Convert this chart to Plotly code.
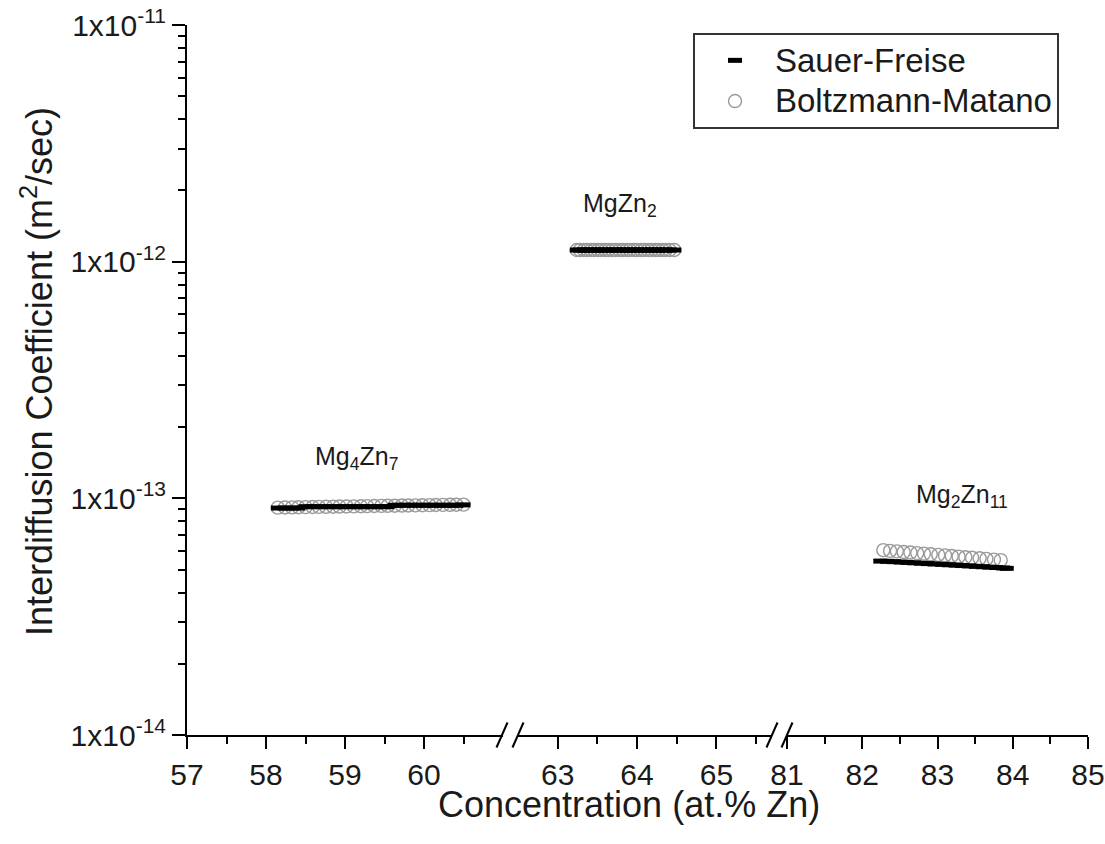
import plotly.graph_objects as go

# --- Measured interdiffusion coefficients (m^2/s) vs. composition (at.% Zn) ---

# Mg4Zn7 phase
mg4zn7_x = [58.15, 58.24, 58.33, 58.41, 58.50, 58.59, 58.67, 58.76, 58.85, 58.93,
            59.02, 59.11, 59.20, 59.28, 59.37, 59.46, 59.54, 59.63, 59.72, 59.80,
            59.89, 59.98, 60.07, 60.15, 60.24, 60.33, 60.41, 60.50]
mg4zn7_sf = [9.10e-14, 9.10e-14, 9.10e-14, 9.10e-14, 9.22e-14, 9.22e-14, 9.22e-14,
             9.22e-14, 9.22e-14, 9.22e-14, 9.22e-14, 9.22e-14, 9.22e-14, 9.22e-14,
             9.22e-14, 9.22e-14, 9.22e-14, 9.35e-14, 9.35e-14, 9.35e-14, 9.35e-14,
             9.35e-14, 9.35e-14, 9.35e-14, 9.35e-14, 9.35e-14, 9.35e-14, 9.38e-14]
mg4zn7_bm = [9.14e-14, 9.15e-14, 9.16e-14, 9.17e-14, 9.18e-14, 9.19e-14, 9.20e-14,
             9.21e-14, 9.22e-14, 9.23e-14, 9.24e-14, 9.25e-14, 9.26e-14, 9.27e-14,
             9.28e-14, 9.29e-14, 9.30e-14, 9.31e-14, 9.32e-14, 9.33e-14, 9.34e-14,
             9.35e-14, 9.36e-14, 9.37e-14, 9.38e-14, 9.39e-14, 9.40e-14, 9.41e-14]

# MgZn2 phase
mgzn2_x = [63.24, 63.28, 63.33, 63.37, 63.42, 63.46, 63.51, 63.55, 63.60, 63.64,
           63.69, 63.73, 63.78, 63.82, 63.87, 63.91, 63.96, 64.00, 64.05, 64.09,
           64.14, 64.18, 64.23, 64.27, 64.32, 64.36, 64.41, 64.47]
mgzn2_sf = [1.12e-12, 1.12e-12, 1.12e-12, 1.12e-12, 1.12e-12, 1.12e-12, 1.12e-12,
            1.12e-12, 1.12e-12, 1.12e-12, 1.12e-12, 1.12e-12, 1.12e-12, 1.12e-12,
            1.12e-12, 1.12e-12, 1.12e-12, 1.12e-12, 1.12e-12, 1.12e-12, 1.12e-12,
            1.12e-12, 1.12e-12, 1.12e-12, 1.12e-12, 1.12e-12, 1.12e-12, 1.12e-12]
mgzn2_bm = [1.12e-12, 1.12e-12, 1.12e-12, 1.12e-12, 1.12e-12, 1.12e-12, 1.12e-12,
            1.12e-12, 1.12e-12, 1.12e-12, 1.12e-12, 1.12e-12, 1.12e-12, 1.12e-12,
            1.12e-12, 1.12e-12, 1.12e-12, 1.12e-12, 1.12e-12, 1.12e-12, 1.12e-12,
            1.12e-12, 1.12e-12, 1.12e-12, 1.12e-12, 1.12e-12, 1.12e-12, 1.12e-12]

# Mg2Zn11 phase
mg2zn11_x_sf = [82.24, 82.33, 82.42, 82.51, 82.60, 82.69, 82.78, 82.87, 82.96, 83.06,
                83.15, 83.24, 83.33, 83.42, 83.51, 83.60, 83.69, 83.78, 83.87, 83.92]
mg2zn11_sf = [5.43e-14, 5.42e-14, 5.40e-14, 5.38e-14, 5.36e-14, 5.34e-14, 5.32e-14,
              5.30e-14, 5.28e-14, 5.26e-14, 5.24e-14, 5.22e-14, 5.20e-14, 5.18e-14,
              5.16e-14, 5.14e-14, 5.12e-14, 5.10e-14, 5.08e-14, 5.06e-14]
mg2zn11_x_bm = [82.28, 82.37, 82.46, 82.55, 82.64, 82.73, 82.82, 82.91, 83.01,
                83.10, 83.19, 83.28, 83.37, 83.46, 83.56, 83.65, 83.75, 83.84]
mg2zn11_bm = [6.04e-14, 6.00e-14, 5.97e-14, 5.93e-14, 5.90e-14, 5.87e-14, 5.84e-14,
              5.80e-14, 5.77e-14, 5.74e-14, 5.71e-14, 5.67e-14, 5.64e-14, 5.61e-14,
              5.58e-14, 5.55e-14, 5.51e-14, 5.48e-14]

# Axis ticks
y_tickvals = [1e-14, 1e-13, 1e-12, 1e-11]
y_ticktext = ["1x10<sup>-14</sup>", "1x10<sup>-13</sup>", "1x10<sup>-12</sup>", "1x10<sup>-11</sup>"]
y_minor = [k * 10.0 ** e for e in (-14, -13, -12) for k in range(2, 10)]
seg1_ticks, seg1_minor = [57, 58, 59, 60], [57.5, 58.5, 59.5, 60.5]
seg2_ticks, seg2_minor = [63, 64, 65], [63.5, 64.5, 65.5]
seg3_ticks, seg3_minor = [81, 82, 83, 84, 85], [81.5, 82.5, 83.5, 84.5]

FONT = "Arial, Liberation Sans, sans-serif"
TXT = "#1a1a1a"

SF_MARKER = dict(symbol="line-ew", size=10, line=dict(width=5, color="black"), color="black")
BM_MARKER = dict(symbol="circle-open", size=13, color="#9a9a9a", line=dict(width=1.4, color="#9a9a9a"))


def legend_label(name):
    # larger glyphs than the legend row font, keeping the rows compact
    return f'<span style="font-size:33px">{name}</span>'


fig = go.Figure()

segments = [
    ("x", mg4zn7_x, mg4zn7_sf, mg4zn7_x, mg4zn7_bm),
    ("x2", mgzn2_x, mgzn2_sf, mgzn2_x, mgzn2_bm),
    ("x3", mg2zn11_x_sf, mg2zn11_sf, mg2zn11_x_bm, mg2zn11_bm),
]
for i, (xa, xs, ys, xb, yb) in enumerate(segments):
    fig.add_trace(go.Scatter(x=xb, y=yb, xaxis=xa, yaxis="y", mode="markers",
                             marker=BM_MARKER, name=legend_label("Boltzmann-Matano"),
                             legendgroup="bm", legendrank=2, showlegend=(i == 0)))
    fig.add_trace(go.Scatter(x=xs, y=ys, xaxis=xa, yaxis="y", mode="markers",
                             marker=SF_MARKER, name=legend_label("Sauer-Freise"),
                             legendgroup="sf", legendrank=1, showlegend=(i == 0)))

# plot area: 901 px wide, 710 px tall
W_PLOT, H_PLOT = 901, 710
L, T = 187, 25


def px(a):
    return (a - L) / W_PLOT


SEG1, SEG2, SEG3 = [px(187), px(503)], [px(518), px(772)], [px(787), px(1088)]

xcommon = dict(
    showline=True, linewidth=2, linecolor="black", ticks="outside", ticklen=12,
    tickwidth=2, tickcolor="black", showgrid=False, zeroline=False,
    tickfont=dict(family=FONT, size=30, color=TXT), tickmode="array", anchor="y",
)
minor_x = dict(tickmode="array", ticks="outside", ticklen=7, tickwidth=2, tickcolor="black")
fig.update_layout(
    xaxis=dict(domain=SEG1, range=[57, 61], tickvals=seg1_ticks,
               minor=dict(tickvals=seg1_minor, **minor_x), **xcommon),
    xaxis2=dict(domain=SEG2, range=[62.5, 65.7], tickvals=seg2_ticks,
                minor=dict(tickvals=seg2_minor, **minor_x), **xcommon),
    xaxis3=dict(domain=SEG3, range=[81, 85], tickvals=seg3_ticks,
                minor=dict(tickvals=seg3_minor, **minor_x), **xcommon),
    yaxis=dict(
        type="log", range=[-14, -11], domain=[0, 1], anchor="x",
        showline=True, linewidth=2, linecolor="black", showgrid=False, zeroline=False,
        ticks="outside", ticklen=13, tickwidth=2, tickcolor="black",
        tickmode="array", tickvals=y_tickvals, ticktext=y_ticktext,
        tickfont=dict(family=FONT, size=30, color=TXT),
        minor=dict(tickmode="array", tickvals=y_minor, ticks="outside", ticklen=7,
                   tickwidth=2, tickcolor="black"),
    ),
    width=1105, height=844,
    margin=dict(l=L, r=1105 - 1088, t=T, b=844 - T - H_PLOT, autoexpand=False),
    plot_bgcolor="white", paper_bgcolor="white",
    legend=dict(
        x=px(693), y=(735 - 33) / H_PLOT, xanchor="left", yanchor="top",
        bordercolor="#333333", borderwidth=2, bgcolor="white",
        font=dict(family=FONT, size=29, color=TXT), itemwidth=70,
        tracegroupgap=0,
    ),
    font=dict(family=FONT, color=TXT),
)

# Axis titles
fig.add_annotation(text="Concentration (at.% Zn)", xref="paper", yref="paper",
                   x=px(629), y=(735 - 804) / H_PLOT, showarrow=False,
                   xanchor="center", yanchor="middle",
                   font=dict(family=FONT, size=36, color=TXT))
fig.add_annotation(text="Interdiffusion Coefficient (m<sup>2</sup>/sec)", xref="paper",
                   yref="paper", x=px(37), y=(735 - 372) / H_PLOT,
                   showarrow=False, textangle=-90, xanchor="center", yanchor="middle",
                   font=dict(family=FONT, size=36, color=TXT))

# Phase labels
for txt, xa, xv, yv in [("Mg<sub>4</sub>Zn<sub>7</sub>", "x", 59.15, -12.83),
                        ("MgZn<sub>2</sub>", "x2", 63.78, -11.76),
                        ("Mg<sub>2</sub>Zn<sub>11</sub>", "x3", 83.33, -12.99)]:
    fig.add_annotation(text=txt, xref=xa, yref="y", x=xv, y=yv, showarrow=False,
                       font=dict(family=FONT, size=25, color=TXT))

# Axis-break marks (//) at the gaps between segments
for xv in (SEG1[1] - 1 / W_PLOT, SEG2[0], SEG2[1], SEG3[0]):
    fig.add_shape(type="line", xref="paper", yref="paper", xsizemode="pixel",
                  ysizemode="pixel", xanchor=xv, yanchor=0,
                  x0=-5.5, x1=5.5, y0=-12.5, y1=12.5,
                  line=dict(color="black", width=2))

fig.write_html("out.html")
